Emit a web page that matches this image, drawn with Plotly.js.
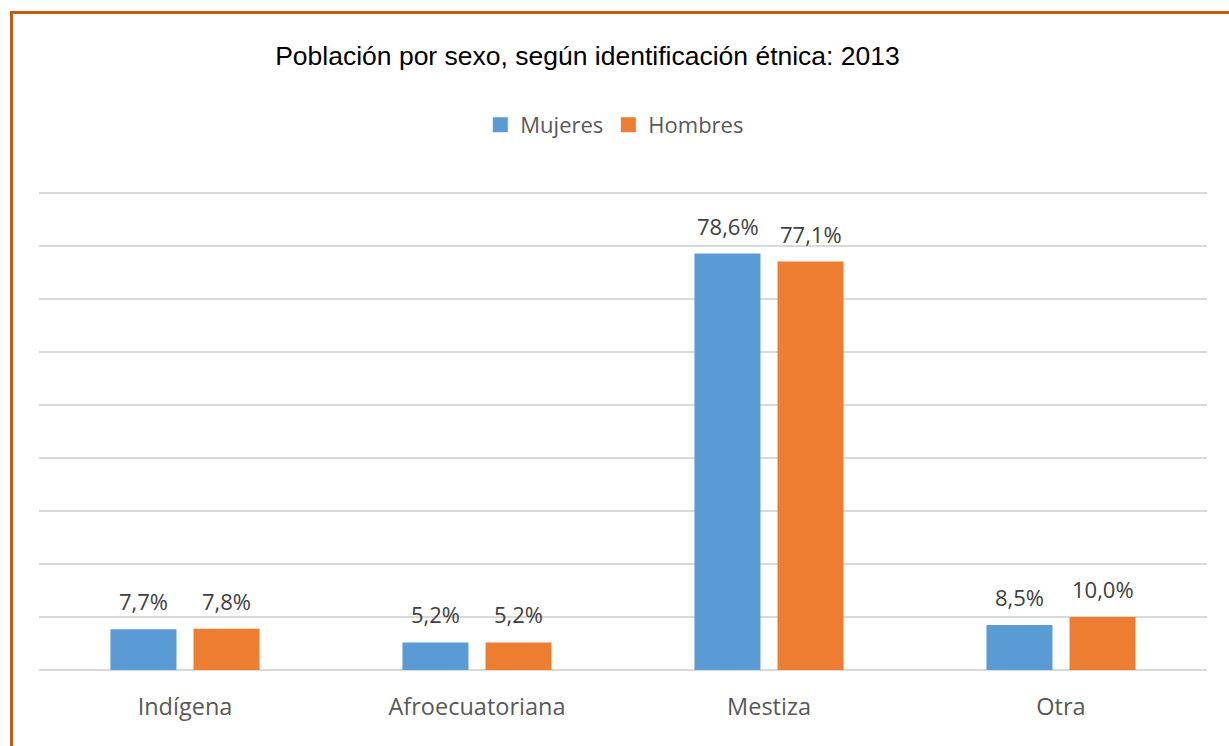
<!DOCTYPE html>
<html>
<head>
<meta charset="utf-8">
<script src="https://cdn.plot.ly/plotly-3.0.1.min.js"></script>
<style>
html,body{margin:0;padding:0;background:#fff;}
#wrap{position:relative;width:1229px;height:746px;overflow:hidden;}
#chart{position:absolute;left:0;top:0;width:1229px;height:746px;}
#frame{position:absolute;left:10px;top:11px;width:1300px;height:800px;border-left:3px solid #C55A11;border-top:3px solid #C55A11;pointer-events:none;}
</style>
</head>
<body>
<div id="wrap">
<div id="chart"></div>
<div id="frame"></div>
</div>
<script>
const categories = ["Indígena", "Afroecuatoriana", "Mestiza", "Otra"];
const mujeres = [7.7, 5.2, 78.6, 8.5];
const hombres = [7.8, 5.2, 77.1, 10.0];
const seriesNames = ["Mujeres", "Hombres"];
const seriesColors = ["#5B9BD5", "#ED7D31"];
const chartTitle = "Población por sexo, según identificación étnica: 2013";

const FONT = "'Open Sans', Lato, sans-serif";
const labelFont = {family: FONT, size: 22, color: "#404040"};
const fmt = v => v.toFixed(1).replace(".", ",") + "%";

const seriesData = [mujeres, hombres];
const traces = [];
seriesData.forEach((vals, k) => {
  traces.push({type: "bar", name: seriesNames[k], x: categories, y: vals,
    marker: {color: seriesColors[k]}, showlegend: false, hoverinfo: "skip"});
});
// legend entries with larger square symbols
seriesData.forEach((vals, k) => {
  traces.push({type: "scatter", mode: "markers", name: seriesNames[k], x: [null], y: [null],
    marker: {symbol: "square", size: 15, color: seriesColors[k]}, showlegend: true, hoverinfo: "skip"});
});

const annotations = [];
seriesData.forEach((vals, k) => {
  vals.forEach((v, i) => {
    annotations.push({x: categories[i], y: v, xref: "x", yref: "y", text: fmt(v),
      showarrow: false, xanchor: "center", yanchor: "bottom",
      xshift: k === 0 ? -41.5 : 41.5, yshift: 11, font: labelFont});
  });
});

const layout = {
  width: 1229, height: 746,
  margin: {l: 39, r: 22, t: 190, b: 76},
  paper_bgcolor: "#ffffff", plot_bgcolor: "#ffffff",
  separators: ",.",
  barmode: "group", bargap: 0.431, bargroupgap: 0.205,
  title: {text: chartTitle, font: {family: "'Liberation Sans Narrow', 'Liberation Sans', Arial, sans-serif", size: 26.5, color: "#000000"},
          x: 0.478, xanchor: "center", xref: "container", y: 1 - 56/746, yanchor: "middle", yref: "container"},
  showlegend: true,
  legend: {orientation: "h", x: 0.493, xanchor: "center", y: (670-125)/480, yanchor: "middle",
           font: {family: FONT, size: 22, color: "#595959"}, itemwidth: 30, traceorder: "normal"},
  annotations: annotations,
  xaxis: {type: "category", showgrid: false, zeroline: false, showline: false, ticks: "",
          tickfont: {family: FONT, size: 23.5, color: "#595959"}, ticklabelstandoff: 20},
  yaxis: {range: [0, 90.6], dtick: 10, tick0: 0, showticklabels: false, showgrid: true,
          gridcolor: "#d9d9d9", gridwidth: 1.5, zeroline: true, zerolinecolor: "#d9d9d9", zerolinewidth: 1.5, ticks: ""},
  font: {family: FONT}
};

Plotly.newPlot("chart", traces, layout, {displayModeBar: false, staticPlot: true});
</script>
</body>
</html>
